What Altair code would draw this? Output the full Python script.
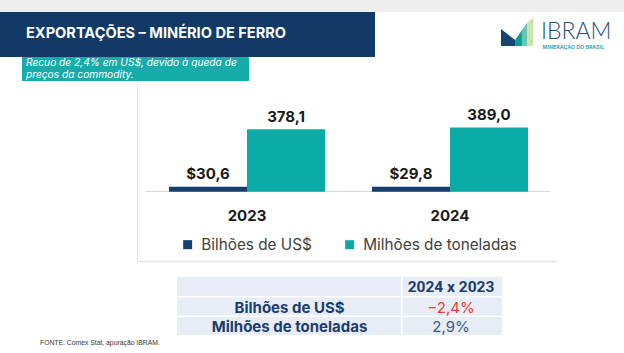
import altair as alt
import pandas as pd

# ---- data ----
years = ["2023", "2024"]
series = ["Bilhões de US$", "Milhões de toneladas"]
usd_values = [30.6, 29.8]
ton_values = [378.1, 389.0]
usd_labels = ["$30,6", "$29,8"]
ton_labels = ["378,1", "389,0"]
table_header = ["2024 x 2023"]
table_rows = ["Bilhões de US$", "Milhões de toneladas"]
table_changes = ["−2,4%", "2,9%"]
title_text = ["EXPORTAÇÕES – MINÉRIO DE FERRO"]
subtitle_line1 = ["Recuo de 2,4% em US$, devido à queda de"]
subtitle_line2 = ["preços da commodity."]
source_text = ["FONTE: Comex Stat, apuração IBRAM."]
logo_text = ["IBRAM"]
logo_sub = ["MINERAÇÃO DO BRASIL"]

FONT = "Inter"
NAVY = "#113a66"
TEAL = "#14adaa"
BAR_NAVY = "#173f6e"
BAR_TEAL = "#0aaaa6"
TXT_NAVY = "#1c3e6e"

bars_df = pd.DataFrame({
    "year": years * 2,
    "series": [series[0]] * 2 + [series[1]] * 2,
    "value": usd_values + ton_values,
    "label": usd_labels + ton_labels,
})
years_df = pd.DataFrame({"year": years})
table_df = pd.DataFrame({"row": table_rows, "change": table_changes})

one = alt.Data(values=[{}])


def box(x, x2, y, y2, fill):
    return alt.Chart(one).mark_rect(color=fill).encode(
        x=alt.value(x), x2=alt.value(x2), y=alt.value(y), y2=alt.value(y2))


def hrule(x, x2, y, color, w=1):
    return alt.Chart(one).mark_rule(color=color, strokeWidth=w).encode(
        x=alt.value(x), x2=alt.value(x2), y=alt.value(y))


def vrule(x, y, y2, color, w=1):
    return alt.Chart(one).mark_rule(color=color, strokeWidth=w).encode(
        x=alt.value(x), y=alt.value(y), y2=alt.value(y2))


def label(text_list, x, y, **kw):
    return alt.Chart(alt.Data(values=[{"t": t} for t in text_list])).mark_text(**kw).encode(
        x=alt.value(x), y=alt.value(y), text="t:N")


# ---- decorative frame ----
top_strip = box(0, 624, 0, 12, "#eeeeee")
header = box(0, 375, 12, 57, NAVY)
sub_box = box(22, 249, 57, 81, TEAL)
panel_left = vrule(137.5, 84, 262, "#e6e6e6")
panel_bottom = hrule(137.5, 557, 261.5, "#e6e6e6", 1.5)

title = label(title_text, 26, 33.5, align="left", baseline="middle", font=FONT,
              fontSize=14.6, fontWeight="bold", color="white")
sub1 = label(subtitle_line1, 26, 63.0, align="left", baseline="middle", font=FONT,
             fontSize=10.2, fontStyle="italic", color="white")
sub2 = label(subtitle_line2, 26, 74.6, align="left", baseline="middle", font=FONT,
             fontSize=10.2, fontStyle="italic", color="white")


# logo
def logo_piece(path, color):
    return alt.Chart(one).mark_point(shape=path, filled=True, size=1024, opacity=1,
                                     strokeWidth=0, color=color).encode(
        x=alt.value(517), y=alt.value(32))


logo = [
    logo_piece("M-1,-0.19L-0.125,0.5L-0.125,0.875L-1,0.875Z", "#17456f"),
    logo_piece("M-0.125,0.5L0.31,-0.125L0.31,0.875L-0.125,0.875Z", "#0e9d9b"),
    logo_piece("M0.31,-0.125L0.625,-0.5625L0.625,0.875L0.31,0.875Z", "#6cc4b4"),
    logo_piece("M0.625,-0.5625L1,-0.875L1,0.875L0.625,0.875Z", "#c9e3a8"),
]
logo_t = label(logo_text, 541, 31.5, align="left", baseline="middle", font="Lato",
               fontSize=23, fontWeight=300, color="#1f4f79")
logo_s = label(logo_sub, 542.5, 46.7, align="left", baseline="middle", font=FONT,
               fontSize=5.3, fontWeight="bold", color="#4aa6b2")

# ---- bar chart ----
xs = alt.Scale(type="band", domain=years, range=[169, 528], paddingInner=0.2315, paddingOuter=0)
ys = alt.Scale(domain=[0, 400], range=[191.7, 125.7])
xo = alt.XOffset("series:N", scale=alt.Scale(domain=series, paddingInner=0, paddingOuter=0))

bars = alt.Chart(bars_df).mark_bar().encode(
    x=alt.X("year:N", scale=xs, axis=None),
    xOffset=xo,
    y=alt.Y("value:Q", scale=ys, axis=None),
    color=alt.Color("series:N", scale=alt.Scale(domain=series, range=[BAR_NAVY, BAR_TEAL]),
                    legend=alt.Legend(orient="none", legendX=180, legendY=237,
                                      direction="horizontal", title=None,
                                      symbolType="square", symbolSize=81,
                                      symbolStrokeWidth=0, symbolOpacity=1,
                                      labelFont=FONT, labelFontSize=15.3,
                                      labelColor="#404040", labelOffset=6,
                                      columnPadding=30, padding=0)),
)
bar_labels = alt.Chart(bars_df).mark_text(
    dy=-7.5, baseline="alphabetic", font=FONT, fontSize=15, fontWeight="bold",
    color="#1a1a1a").encode(
    x=alt.X("year:N", scale=xs, axis=None),
    xOffset=xo,
    y=alt.Y("value:Q", scale=ys, axis=None),
    text="label:N",
)
year_labels = alt.Chart(years_df).mark_text(
    baseline="middle", font=FONT, fontSize=15, fontWeight="bold", color="#1a1a1a").encode(
    x=alt.X("year:N", scale=xs, axis=None),
    y=alt.value(216),
    text="year:N",
)
baseline = hrule(145.5, 550, 191.5, "#d9d9d9")

bar_block = alt.layer(bars, bar_labels, year_labels)

# ---- table ----
table_bg = box(177, 502, 277, 335, "#e8ecf5")
sep_h1 = hrule(177, 502, 296.7, "white", 1.5)
sep_h2 = hrule(177, 502, 316.2, "white", 1.5)
sep_v = vrule(401.7, 277, 335, "white", 1.5)

th = label(table_header, 451, 287, align="center", baseline="middle", font="Roboto",
           fontSize=15.5, fontWeight="bold", color=TXT_NAVY)
row_y = alt.Y("row:N", scale=alt.Scale(type="point", domain=table_rows,
                                       range=[307.5, 326.5], padding=0), axis=None)
row_names = alt.Chart(table_df).mark_text(
    align="center", baseline="middle", font=FONT, fontSize=15, fontWeight="bold",
    color=TXT_NAVY).encode(x=alt.value(289.5), y=row_y, text="row:N")
row_vals = alt.Chart(table_df).mark_text(
    align="center", baseline="middle", font=FONT, fontSize=15).encode(
    x=alt.value(451), y=row_y, text="change:N",
    color=alt.condition("indexof(datum.change, '−') == 0", alt.value("#ef3a2f"),
                        alt.value("#3b5a86")))

source = label(source_text, 40, 342.7, align="left", baseline="middle",
               font="Liberation Sans", fontSize=6.8, color="#333333")

chart = alt.layer(
    top_strip, header, sub_box, panel_left, panel_bottom, title, sub1, sub2,
    *logo, logo_t, logo_s,
    baseline, bar_block,
    table_bg, sep_h1, sep_h2, sep_v, th, row_names, row_vals, source,
).resolve_scale(x="independent", y="independent", color="independent").properties(
    width=624, height=353, padding=0,
    autosize=alt.AutoSizeParams(type="fit", contains="padding"),
    background="white",
).configure_view(stroke=None)

chart.save("out.html", embed_options={"renderer": "svg", "actions": False})
